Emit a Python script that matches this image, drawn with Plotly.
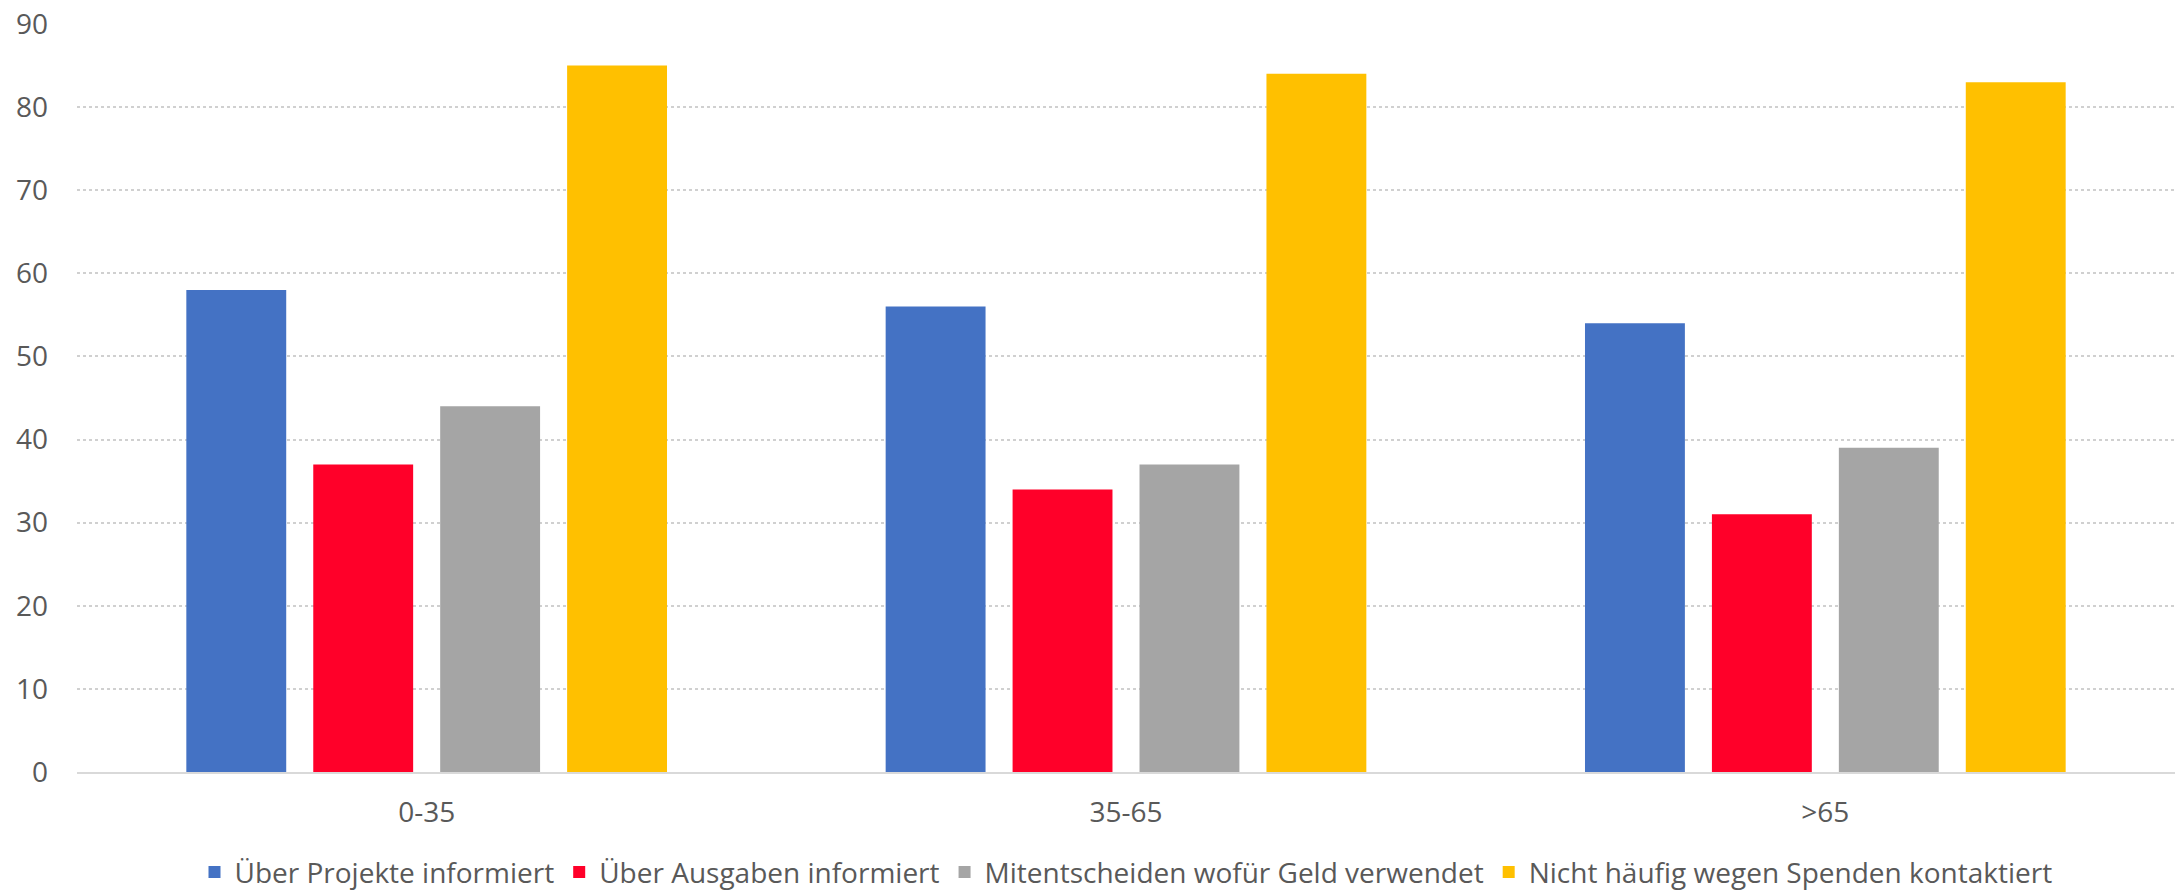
import plotly.graph_objects as go

categories = ["0-35", "35-65", ">65"]
series_names = [
    "Über Projekte informiert",
    "Über Ausgaben informiert",
    "Mitentscheiden wofür Geld verwendet",
    "Nicht häufig wegen Spenden kontaktiert",
]
projekte = [58, 56, 54]
ausgaben = [37, 34, 31]
mitentscheiden = [44, 37, 39]
nicht_kontaktiert = [85, 84, 83]
colors = ["#4472C4", "#FF0029", "#A5A5A5", "#FFC000"]
y_ticks = [0, 10, 20, 30, 40, 50, 60, 70, 80, 90]

values = [projekte, ausgaben, mitentscheiden, nicht_kontaktiert]

FONT = "Open Sans"
TXT = "#595959"
FS = 28

fig = go.Figure()
for name, vals, col in zip(series_names, values, colors):
    fig.add_trace(go.Bar(x=categories, y=vals, name=name, marker=dict(color=col, line=dict(width=0))))

fig.update_layout(
    width=2175, height=892,
    margin=dict(l=77, r=0, t=24, b=120, autoexpand=False),
    paper_bgcolor="white", plot_bgcolor="white",
    barmode="group", bargap=0.274, bargroupgap=0.213,
    font=dict(family=FONT, size=FS, color=TXT),
    showlegend=True,
    legend=dict(orientation="h", x=0.5, xanchor="center", y=-0.134, yanchor="middle",
                font=dict(family=FONT, size=FS, color=TXT), itemwidth=30,
                traceorder="normal", bgcolor="rgba(0,0,0,0)"),
    xaxis=dict(showgrid=False, showline=True, linecolor="#D9D9D9", linewidth=2,
               ticks="", tickfont=dict(size=FS, color=TXT), ticklabelstandoff=14),
    yaxis=dict(range=[0, 90], tickvals=y_ticks, showgrid=True, gridcolor="#D0D0D0",
               griddash="dot", gridwidth=1.5, zeroline=False, showline=False,
               tickfont=dict(size=FS, color=TXT), ticklabelstandoff=28),
)

fig.write_html(
    "out.html",
    config={"displayModeBar": False},
    post_script="document.body.style.margin='0';document.body.style.overflow='hidden';",
)
